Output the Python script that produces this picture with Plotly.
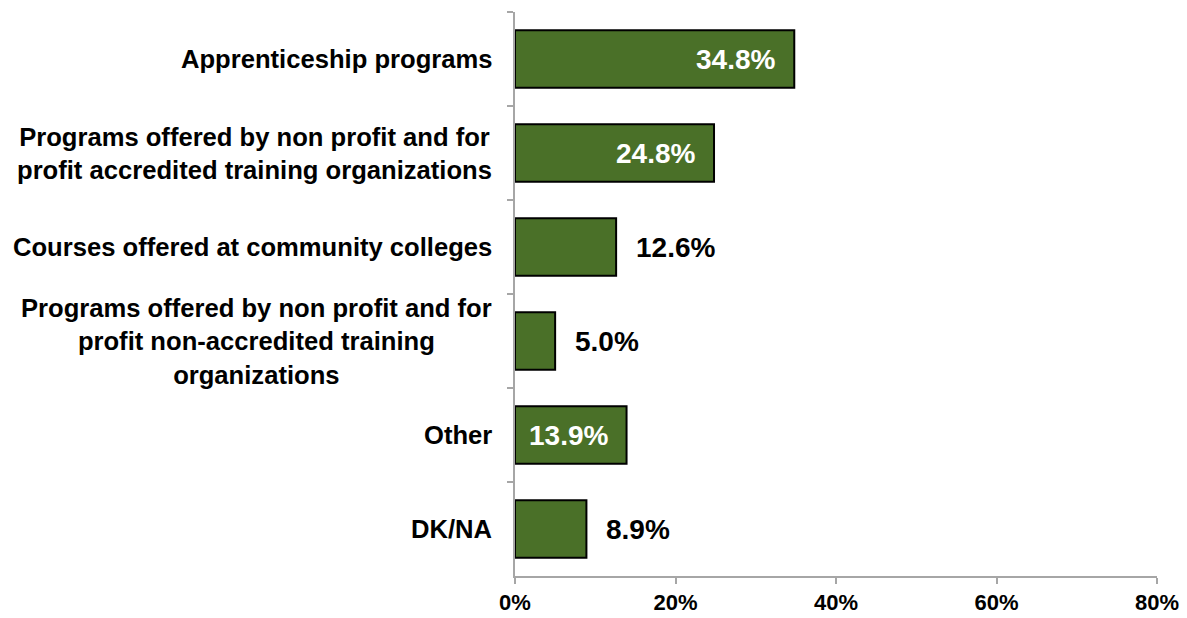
import plotly.graph_objects as go

# Data
categories = [
    "Apprenticeship programs",
    "Programs offered by non profit and for<br>profit accredited training organizations",
    "Courses offered at community colleges",
    "Programs offered by non profit and for<br>profit non-accredited training<br>organizations",
    "Other",
    "DK/NA",
]
values = [34.8, 24.8, 12.6, 5.0, 13.9, 8.9]
label_inside = [True, True, False, False, True, False]
x_ticks = [0, 20, 40, 60, 80]
x_tick_text = [f"{t}%" for t in x_ticks]

FONT = "Liberation Sans, Arial, sans-serif"
BAR_GREEN = "#4a7028"
AXIS_GREY = "#a6a6a6"

fig = go.Figure()
fig.add_trace(go.Bar(
    x=values,
    y=categories,
    orientation="h",
    marker=dict(color=BAR_GREEN, line=dict(color="black", width=2)),
    hoverinfo="x+y",
))

# value labels: white inside big bars, black outside small ones
for cat, val, inside in zip(categories, values, label_inside):
    fig.add_annotation(
        x=val, y=cat, xref="x", yref="y",
        text=f"{val:.1f}%",
        showarrow=False,
        xanchor="right" if inside else "left",
        xshift=-17 if inside else 18,
        font=dict(family=FONT, size=28, color="white" if inside else "black", weight="bold"),
    )

# category labels, lines centred like the original
for cat in categories:
    fig.add_annotation(
        x=0, y=cat, xref="paper", yref="y",
        text=cat,
        showarrow=False,
        xanchor="right",
        align="center",
        xshift=-21,
        font=dict(family=FONT, size=25.6, color="black", weight="bold"),
    )

fig.update_layout(
    width=1179,
    height=610,
    plot_bgcolor="white",
    paper_bgcolor="white",
    margin=dict(l=507, r=30, t=4, b=42),
    bargap=0.39,
    showlegend=False,
    xaxis=dict(
        range=[0, 80],
        tickvals=x_ticks,
        ticktext=x_tick_text,
        showgrid=False,
        zeroline=False,
        showline=True,
        linecolor=AXIS_GREY,
        linewidth=2,
        ticks="outside",
        tickcolor=AXIS_GREY,
        tickwidth=2,
        ticklen=6,
        tickfont=dict(family=FONT, size=22, color="black", weight="bold"),
    ),
    yaxis=dict(
        categoryorder="array",
        categoryarray=categories,
        autorange="reversed",
        showticklabels=False,
        showgrid=False,
        showline=True,
        linecolor=AXIS_GREY,
        linewidth=2,
        ticks="outside",
        tickson="boundaries",
        tickcolor=AXIS_GREY,
        tickwidth=2,
        ticklen=6,
    ),
)

fig.write_html("out.html")
